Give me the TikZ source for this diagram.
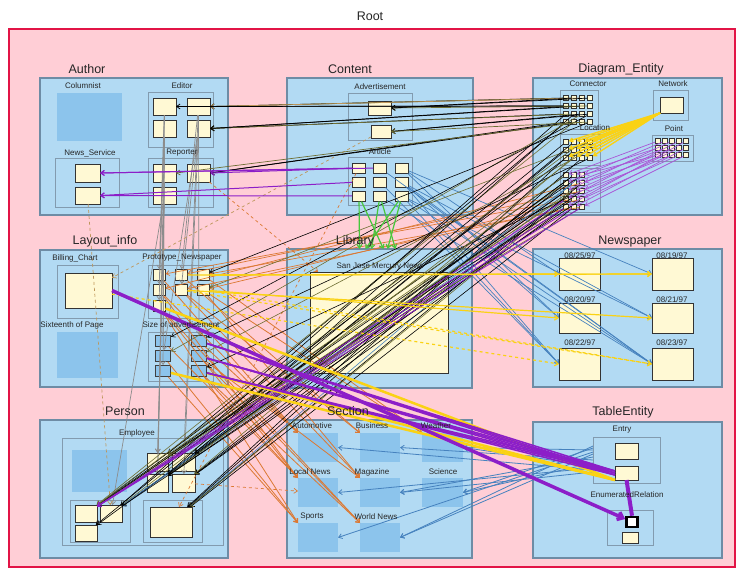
\documentclass[tikz,border=0pt]{standalone}
\usepackage{fontspec}
\setmainfont{Liberation Sans}
\usetikzlibrary{arrows.meta}
\definecolor{pinkbg}{RGB}{255,206,214}
\definecolor{rootred}{RGB}{226,20,70}
\definecolor{pkgblue}{RGB}{178,218,243}
\definecolor{pkgedge}{RGB}{110,140,165}
\definecolor{subedge}{RGB}{130,155,175}
\definecolor{darkblue}{RGB}{140,196,236}
\definecolor{pyellow}{RGB}{255,249,212}
\definecolor{cpurple}{RGB}{140,30,200}
\definecolor{cgreen}{RGB}{70,200,60}
\definecolor{cyellow}{RGB}{250,210,20}
\definecolor{corange}{RGB}{220,120,50}
\definecolor{csteel}{RGB}{70,130,190}
\definecolor{colive}{RGB}{110,110,50}
\definecolor{cgray}{RGB}{140,140,140}
\definecolor{ctan}{RGB}{190,150,90}
\newcommand\mkbox[6]{\node[#1, inner sep=0pt, outer sep=0pt, minimum width={(#5-#3)*1pt}, minimum height={(#6-#4)*1pt}] (#2) at ({(#3+#5)/2},{(#4+#6)/2}) {};}
\begin{document}
\begin{tikzpicture}[x=1pt,y=-1pt,
  rootbox/.style={draw=rootred, line width=2.8pt, fill=pinkbg},
  pkg/.style={draw=pkgedge, line width=1.5pt, fill=pkgblue},
  subpkg/.style={draw=subedge, line width=1pt, fill=pkgblue},
  ybox/.style={draw=black!80, line width=1pt, fill=pyellow},
  dbox/.style={fill=darkblue, draw=none},
  bbox/.style={draw=black!75, line width=1pt, fill=darkblue},
  tiny/.style={draw=black!80, line width=0.5pt, fill=pyellow, minimum size=5pt, inner sep=0pt},
  plabel/.style={font=\fontsize{12.5}{13}\selectfont, text=black!85, inner sep=1pt},
  slabel/.style={font=\fontsize{8}{9}\selectfont, text=black!85, inner sep=1pt},
  con/.style={line width=0.6pt, -{Straight Barb[length=3.5pt,width=5pt]}}]
\useasboundingbox (0,0) rectangle (742,573);
\fill[white] (0,0) rectangle (742,573);
% root
\mkbox{rootbox}{root}{9}{29}{735}{567}
% packages
\mkbox{pkg}{author}{40}{78}{228}{215}
\mkbox{pkg}{content}{287}{78}{473}{215}
\mkbox{pkg}{diag}{533}{78}{722}{215}
\mkbox{pkg}{layout}{40}{250}{228}{387}
\mkbox{pkg}{library}{287}{249}{472}{388}
\mkbox{pkg}{newspaper}{533}{249}{722}{387}
\mkbox{pkg}{person}{40}{420}{228}{558}
\mkbox{pkg}{section}{287}{420}{472}{558}
\mkbox{pkg}{table}{533}{422}{722}{558}
% Author
\mkbox{dbox}{columnist}{57}{93}{122}{141}
\mkbox{subpkg}{editor}{148}{92}{213}{147}
\mkbox{ybox}{ed1}{153}{98}{176}{115}
\mkbox{ybox}{ed2}{187}{98}{210}{115}
\mkbox{ybox}{ed3}{153}{120}{176}{137}
\mkbox{ybox}{ed4}{187}{120}{210}{137}
\mkbox{subpkg}{newsserv}{55}{158}{119}{207}
\mkbox{ybox}{ns1}{75}{164}{100}{182}
\mkbox{ybox}{ns2}{75}{187}{100}{204}
\mkbox{subpkg}{reporter}{148}{158}{213}{207}
\mkbox{ybox}{rp1}{153}{164}{176}{182}
\mkbox{ybox}{rp2}{187}{164}{210}{182}
\mkbox{ybox}{rp3}{153}{187}{176}{204}
% Content
\mkbox{subpkg}{advert}{348}{93}{412}{140}
\mkbox{ybox}{ad1}{368}{101}{391}{115}
\mkbox{ybox}{ad2}{371}{125}{391}{138}
\mkbox{subpkg}{article}{348}{157}{412}{205}
\foreach \r/\y in {0/168,1/182,2/196}
  \foreach \c/\x in {1/359,2/380,3/402}{
    \pgfmathtruncatemacro\k{3*\r+\c}
    \node[ybox, minimum width=13pt, minimum height=10pt, inner sep=0pt] (art\k) at (\x,\y) {};
  }
% Diagram_Entity
\mkbox{subpkg}{connector}{560}{90}{598}{129}
\mkbox{subpkg}{location}{560}{134}{600}{165}
\mkbox{subpkg}{rectsub}{560}{168}{600}{212}
\mkbox{subpkg}{network}{653}{90}{688}{120}
\mkbox{ybox}{net}{660}{97}{683}{113}
\mkbox{subpkg}{point}{652}{135}{693}{161}
\foreach \i/\y in {1/98,2/106,3/114,4/122}
  \foreach \j/\x in {1/566,2/574,3/582,4/590}
    \node[tiny] (cn\i\j) at (\x,\y) {};
\foreach \i/\y in {1/142,2/150,3/158}
  \foreach \j/\x in {1/566,2/574,3/582,4/590}
    \node[tiny] (lc\i\j) at (\x,\y) {};
\foreach \i/\y in {1/175,2/183,3/191,4/199,5/207}
  \foreach \j/\x in {1/566,2/574,3/582}
    \node[tiny] (rc\i\j) at (\x,\y) {};
\foreach \i/\y in {1/141,2/148,3/155}
  \foreach \j/\x in {1/658,2/665,3/672,4/679,5/686}
    \node[tiny] (pt\i\j) at (\x,\y) {};
% Layout_info
\mkbox{subpkg}{billing}{57}{265}{118}{318}
\mkbox{ybox}{bill}{65}{273}{112}{308}
\mkbox{subpkg}{proto}{148}{265}{213}{318}
\foreach \n/\x/\y in {1/159/275,2/181/275,3/203/275,4/159/290,5/181/290,6/203/290,7/159/306}
  \node[ybox, minimum width=12pt, minimum height=11pt, inner sep=0pt] (pr\n) at (\x,\y) {};
\mkbox{dbox}{sixteenth}{57}{332}{118}{378}
\mkbox{subpkg}{sizead}{148}{332}{213}{381}
\foreach \n/\x/\y in {1/163/341,2/199/341,3/163/356,4/199/356,5/163/371,6/199/371}
  \node[bbox, minimum width=15pt, minimum height=11pt, inner sep=0pt] (sz\n) at (\x,\y) {};
% Library
\mkbox{ybox}{sanjose}{310}{272}{448}{373}
% Newspaper
\mkbox{ybox}{n1}{559}{258}{600}{290}
\mkbox{ybox}{n2}{652}{258}{693}{290}
\mkbox{ybox}{n3}{559}{303}{600}{333}
\mkbox{ybox}{n4}{652}{303}{693}{333}
\mkbox{ybox}{n5}{559}{348}{600}{380}
\mkbox{ybox}{n6}{652}{348}{693}{380}
% Person
\mkbox{subpkg}{employee}{62}{438}{223}{545}
\mkbox{dbox}{empdark}{72}{450}{127}{492}
\mkbox{ybox}{e1}{147}{453}{168}{471}
\mkbox{ybox}{e2}{172}{453}{195}{471}
\mkbox{ybox}{e3}{147}{474}{168}{492}
\mkbox{ybox}{e4}{172}{474}{195}{492}
\mkbox{subpkg}{suba}{70}{500}{130}{542}
\mkbox{ybox}{a1}{75}{505}{97}{522}
\mkbox{ybox}{a2}{100}{505}{122}{522}
\mkbox{ybox}{a3}{75}{525}{97}{541}
\mkbox{subpkg}{subb}{143}{500}{202}{542}
\mkbox{ybox}{b1}{150}{507}{192}{537}
% Section
\mkbox{dbox}{s1}{298}{433}{338}{462}
\mkbox{dbox}{s2}{360}{433}{400}{462}
\mkbox{dbox}{s3}{422}{433}{463}{462}
\mkbox{dbox}{s4}{298}{478}{338}{507}
\mkbox{dbox}{s5}{360}{478}{400}{507}
\mkbox{dbox}{s6}{422}{478}{463}{507}
\mkbox{dbox}{s7}{298}{523}{338}{552}
\mkbox{dbox}{s8}{360}{523}{400}{552}
% TableEntity
\mkbox{subpkg}{entry}{593}{437}{660}{483}
\mkbox{ybox}{t1}{615}{443}{638}{459}
\mkbox{ybox}{t2}{615}{466}{638}{480}
\mkbox{subpkg}{enum}{607}{510}{653}{545}
\node[draw=black, fill=white, line width=2.5pt, minimum width=11pt, minimum height=10pt, inner sep=0pt] (t3) at (632,522) {};
\mkbox{ybox}{t4}{622}{532}{638}{543}

% ---------------- connectors ----------------
% gray verticals from Author
\foreach \s/\t in {ed1/pr1, ed3/pr4, ed2/pr2, ed4/pr5, ed3/sz1, ed4/sz3, rp1/e1, rp3/e1, rp1/e3, rp3/a2, ed1/sz5, ed3/e3, ed2/e2, ed4/e4, ed1/pr7, ed2/sz2}
  \draw[con, cgray, line width=0.7pt] (\s) -- (\t);
% dashed
\draw[con, dashed, ctan, line width=0.7pt] (ns2) -- (a2);
\draw[con, dashed, corange, line width=0.7pt] (rp2) -- (sanjose);
\draw[con, dashed, corange, line width=0.7pt] (e4) -- (s4);
\draw[con, dashed, ctan, line width=0.7pt] (ad2) -- (bill);
\draw[con, dashed, corange, line width=0.7pt] (art1) -- (b1);
% steel blue: Article to Newspaper
\foreach \s/\t in {art3/n1, art3/n3, art6/n3, art6/n5, art9/n5, art9/n4, art6/n6, art3/n2, art9/n6, art6/n4, art2/n6, art5/n5, art8/n6}
  \draw[con, csteel, line width=0.7pt] (\s) -- (\t.west);
% steel blue: TableEntity to Section
\foreach \t/\dy in {s3/-6, s6/-3, s2/0, s5/3, s8/6, s7/8, s4/-8, s1/-10, s3/10, s6/12, s5/-12, s8/14}
  \draw[con, csteel, line width=0.8pt] ([yshift=\dy pt]entry.west) -- (\t.east);
% orange: Prototype_Newspaper to Section
\foreach \s/\t in {pr1/s1, pr4/s1, pr7/s4, pr4/s4, pr7/s7, pr5/s2, pr2/s2, pr5/s5, pr6/s5, pr6/s3, pr3/s3, pr7/s8, sz3/s7, sz5/s7, sz4/s8, sz6/s4, sz2/s1, sz4/s5, sz1/s4, sz6/s8}
  \draw[con, corange, line width=0.8pt] (\s) -- (\t.north west);
\foreach \s/\t in {rc53/pr3, rc43/pr6, rc33/pr2, rc52/pr5, rc42/pr1, rc23/pr4}
  \draw[con, corange, line width=0.7pt] (\s) -- (\t);
% diagonal bundle Diagram_Entity to Person / Layout_info
\foreach \s/\t/\c in {rc11/a1/black, rc21/a1/colive, rc31/a2/black, rc41/a2/csteel, rc51/a1/black, rc12/e3/black, rc22/e3/colive, rc32/e4/black, rc42/e1/black, rc52/b1/black, rc13/b1/csteel, rc23/e2/colive, lc31/a1/black, lc32/a2/colive, lc21/e3/black, cn41/e1/black, cn42/a1/colive, lc33/b1/black, lc34/sz2/black, lc24/sz4/colive, rc33/sz6/black, cn44/pr3/black, lc14/pr6/colive,
  rc11/e1/colive, rc12/a3/black, rc13/a1/black, rc21/e4/black, rc22/a2/csteel, rc23/b1/black, rc31/e2/black, rc32/a1/colive, rc33/e3/black, rc41/b1/colive, rc43/a2/black, rc51/e4/black, rc53/e1/colive, lc11/a3/black, lc12/e2/black, lc13/a1/colive, lc22/b1/black, lc23/e4/colive, cn31/a2/black, cn32/e3/black, cn33/sz3/colive, cn34/sz1/black}
  \draw[con, color=\c, line width=0.6pt] (\s) -- (\t);
\foreach \s in {rc51, rc52, rc41, rc53}
  \draw[con, cpurple, line width=0.8pt] (\s) -- (a1);
% black / olive to Editor, Advertisement, Reporter
\foreach \s/\t/\c in {cn11/ed2/black, cn12/ed2/colive, cn21/ed2/black, cn13/ed2/ctan, cn22/ed4/black, cn31/ed4/black, cn32/ed4/colive, cn23/ed4/black, cn14/ad1/black, cn24/ad1/colive, cn33/ad2/black, cn34/ad2/black, cn41/rp2/black, cn42/rp2/black, cn43/rp1/colive, cn44/ad2/colive, cn12/ad1/black, cn21/ed1/black}
  \draw[con, color=\c, line width=0.7pt] (\s) -- (\t.east);
% purple: Article to News_Service
\foreach \s/\t in {art1/ns1, art2/ns1, art4/ns2, art7/ns2, art1/rp2}
  \draw[con, cpurple, line width=1pt] (\s) -- (\t.east);
% green: Article to Library
\foreach \s/\dx in {art7/-20, art8/-8, art9/8, art7/4, art9/-14, art8/16}
  \draw[con, cgreen, line width=1.2pt] (\s) -- ([xshift=\dx pt]library.north);
% yellow fan: Network to Location
\foreach \c in {lc11,lc12,lc13,lc14,lc21,lc22,lc23,lc24,lc31,lc32,lc33,lc34}
  \draw[cyellow, line width=1.4pt, -{Straight Barb[length=3pt,width=4pt]}] (net.south west) -- (\c);
% purple fan: Point to Rectangle grid
\foreach \i in {1,2,3}
  \foreach \j in {1,...,5}
    \draw[con, cpurple!75, line width=0.7pt] (pt\i\j) -- (rc\j\i);
% yellow: Layout_info to Newspaper
\foreach \s/\t/\st in {pr2/n2/solid, pr3/n2/solid, pr5/n4/solid, pr6/n3/solid, pr3/n1/solid, bill/n5/dashed, pr6/n6/dashed, pr5/n6/dashed}
  \draw[con, cyellow, line width=1.2pt, \st] (\s) -- (\t.west);
% yellow band to TableEntity
\foreach \s in {sz5, sz6, pr7}
  \draw[cyellow, line width=2.5pt] (\s) -- (t2.south west);
% purple band to TableEntity
\foreach \s in {sz2, sz4, sz6}
  \foreach \dy in {-2,0,2}
    \draw[cpurple, line width=1.5pt] (\s) -- ([yshift=\dy pt]t2.west);
\draw[cpurple, line width=4pt] (t2.south) -- (t3.north);
\draw[cpurple, line width=3.5pt, -{Straight Barb[length=5pt,width=8pt]}] (bill.east) -- (t3);

% ---------------- labels ----------------
\node[plabel] (lroot) at (370,16) {Root};
\node[plabel] (lauthor) at (87,69) {Author};
\node[plabel] (lcontent) at (350,69) {Content};
\node[plabel] (ldiag) at (621,69) {Diagram\_Entity};
\node[plabel] (llayout) at (105,241) {Layout\_info};
\node[plabel] (llibrary) at (355,241) {Library};
\node[plabel] (lnewspaper) at (630,241) {Newspaper};
\node[plabel] (lperson) at (125,411) {Person};
\node[plabel] (lsection) at (348,411) {Section};
\node[plabel] (ltable) at (623,412) {TableEntity};
\node[slabel] (lcolumnist) at (83,86) {Columnist};
\node[slabel] (leditor) at (182,86) {Editor};
\node[slabel] (lnewsserv) at (90,153) {News\_Service};
\node[slabel] (lreporter) at (182,153) {Reporter};
\node[slabel] (ladvert) at (380,87) {Advertisement};
\node[slabel] (larticle) at (380,152) {Article};
\node[slabel] (lconnector) at (588,84) {Connector};
\node[slabel] (lnetwork) at (673,84) {Network};
\node[slabel] (lpoint) at (674,129) {Point};
\node[slabel] (llocation) at (595,128) {Location};
\node[slabel] (lbilling) at (75,258) {Billing\_Chart};
\node[slabel] (lproto) at (182,258) {Prototype\_Newspaper};
\node[slabel] (lsixteenth) at (72,325) {Sixteenth of Page};
\node[slabel] (lsizead) at (181,325) {Size of advertisement};
\node[slabel] (lsanjose) at (380,267) {San Jose Mercury News};
\node[slabel] (ln1) at (580,256) {08/25/97};
\node[slabel] (ln2) at (672,256) {08/19/97};
\node[slabel] (ln3) at (580,300) {08/20/97};
\node[slabel] (ln4) at (672,300) {08/21/97};
\node[slabel] (ln5) at (580,343) {08/22/97};
\node[slabel] (ln6) at (672,343) {08/23/97};
\node[slabel] (lemployee) at (137,433) {Employee};
\node[slabel] (ls1) at (312,426) {Automotive};
\node[slabel] (ls2) at (372,426) {Business};
\node[slabel] (ls3) at (436,426) {Weather};
\node[slabel] (ls4) at (310,472) {Local News};
\node[slabel] (ls5) at (372,472) {Magazine};
\node[slabel] (ls6) at (443,472) {Science};
\node[slabel] (ls7) at (312,517) {Sports};
\node[slabel] (ls8) at (376,517) {World News};
\node[slabel] (lentry) at (622,430) {Entry};
\node[slabel] (lenum) at (627,495) {EnumeratedRelation};
\end{tikzpicture}
\end{document}
